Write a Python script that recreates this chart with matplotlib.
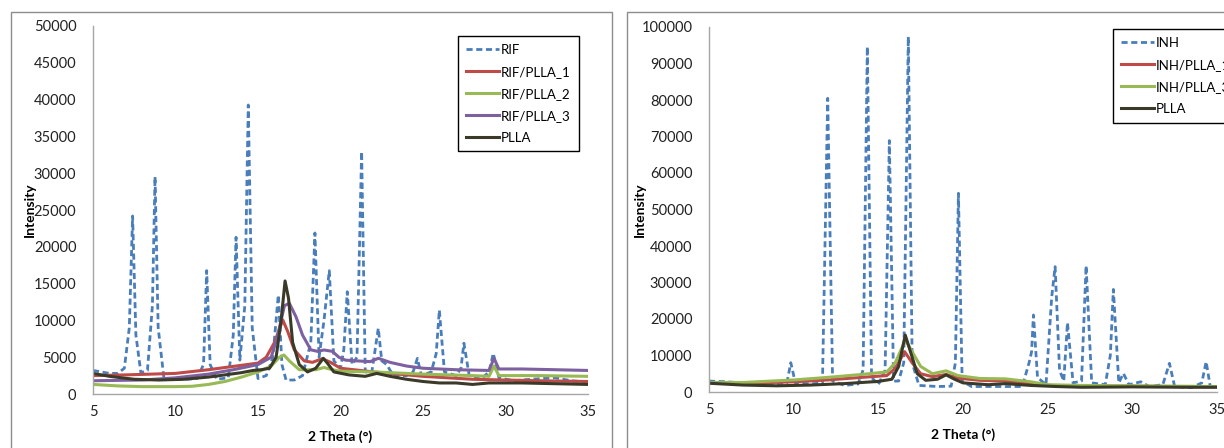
import matplotlib
matplotlib.use("Agg")
import matplotlib.pyplot as plt
from matplotlib.patches import Rectangle

plt.rcParams['font.family'] = ['Lato', 'DejaVu Sans']

# ---- left chart: RIF ----
rif_x = [5, 5.5, 6.0, 6.5, 6.9, 7.2, 7.4, 7.6, 7.9, 8.3, 8.6, 8.76, 8.95, 9.3, 9.8, 10.5, 11.3, 11.7, 11.89, 12.1, 12.5,
         13.2, 13.5, 13.67, 13.9, 14.2, 14.41, 14.65, 15.0, 15.5, 15.9, 16.23, 16.45, 16.7, 17.2, 17.7, 18.2, 18.45,
         18.7, 19.0, 19.32, 19.6, 20.0, 20.2, 20.41, 20.7, 21.0, 21.28, 21.5, 21.9, 22.29, 22.5, 22.8, 23.2, 24.0,
         24.4, 24.66, 24.9, 25.5, 25.8, 25.99, 26.3, 27.0, 27.3, 27.48, 27.8, 28.5, 29.0, 29.26, 29.6, 30.5, 31.5,
         33.0, 34.0, 35.0]
rif_y = [3200, 3000, 2800, 2800, 3500, 9000, 24190, 8000, 2900, 3200, 12000, 29530, 9000, 2100, 2000, 2000, 2100,
         4000, 16760, 4000, 2000, 2200, 8000, 21290, 4600, 12000, 39270, 9000, 2100, 2500, 5000, 13450, 4000, 1900,
         1900, 2500, 7000, 21880, 5000, 10000, 16760, 4500, 3500, 6000, 13900, 4000, 5000, 32930, 3000, 3000, 8930,
         4500, 4000, 2500, 2500, 3000, 4850, 2500, 3000, 5500, 11400, 3000, 2500, 3500, 6900, 2500, 2000, 3000, 5530,
         2200, 1800, 2000, 2200, 1800, 1600]

rif1_x = [5, 7, 10, 12, 14, 15, 15.5, 16.0, 16.5, 16.8, 17.2, 17.8, 18.3, 18.9, 19.4, 20, 22, 25, 28, 30, 32, 35]
rif1_y = [2500, 2600, 2800, 3300, 3900, 4200, 5000, 7000, 10060, 8500, 6000, 4500, 4300, 4800, 4300, 3500, 3000,
          2400, 2000, 1900, 1800, 1700]

rif2_x = [5, 6.5, 8, 10, 11, 12, 13, 14, 15, 15.8, 16.3, 16.57, 16.9, 17.5, 18.5, 19.0, 19.5, 20, 22, 25, 28, 29.0,
          29.3, 29.6, 32, 35]
rif2_y = [1300, 1100, 1000, 1000, 1050, 1300, 1700, 2300, 3000, 3800, 5000, 5300, 4500, 3300, 3300, 3600, 3300,
          3100, 3000, 2700, 2500, 2400, 3800, 2500, 2500, 2400]

rif3_x = [5, 8, 10, 12, 13.5, 15, 15.8, 16.2, 16.6, 16.9, 17.3, 17.7, 18.2, 18.6, 19.0, 19.5, 19.9, 20.3, 21, 21.8,
          22.3, 23, 24, 25, 27, 29.0, 29.3, 29.6, 31, 33, 35]
rif3_y = [1800, 1900, 2200, 2700, 3300, 4000, 5000, 8000, 12000, 12320, 10500, 8000, 6000, 5800, 5980, 5800, 5000,
          4600, 4500, 4400, 4850, 4300, 3800, 3500, 3300, 3200, 4850, 3400, 3400, 3300, 3200]

plla_l_x = [5, 6, 7.5, 9, 10.5, 12, 13, 14, 14.7, 15.2, 15.7, 16.1, 16.4, 16.64, 16.85, 17.1, 17.5, 18.0, 18.5,
            18.96, 19.2, 19.6, 20.5, 21.5, 22.2, 23, 24, 25, 26, 27, 28, 29, 30, 31, 33, 35]
plla_l_y = [2800, 2400, 2000, 1900, 2000, 2300, 2600, 2900, 3200, 3300, 3500, 5000, 10000, 15360, 13000, 7000, 4000,
            3000, 3500, 4850, 4200, 3000, 2600, 2400, 2800, 2400, 2000, 1700, 1500, 1500, 1300, 1500, 1500, 1500,
            1400, 1300]

# ---- right chart: INH ----
inh_x = [5, 6, 7, 8, 9, 9.6, 9.83, 10.1, 11, 11.7, 12.01, 12.3, 13, 13.8, 14.1, 14.35, 14.6, 15.0, 15.4, 15.65,
         15.9, 16.2, 16.5, 16.77, 17.0, 17.4, 18.5, 19.3, 19.55, 19.73, 19.95, 20.5, 22, 23.5, 23.9, 24.05, 24.16,
         24.4, 24.9, 25.24, 25.44, 25.7, 25.95, 26.17, 26.5, 27.0, 27.27, 27.6, 28.4, 28.7, 28.88, 29.2, 29.47,
         29.8, 30.5, 31.0, 31.8, 32.19, 32.5, 33.5, 34.1, 34.36, 34.6, 35]
inh_y = [3000, 2800, 2500, 2400, 2300, 2500, 8030, 2500, 2200, 2500, 80460, 3000, 1800, 2200, 6000, 94600, 4000,
         2000, 6000, 68870, 3000, 3000, 8000, 97360, 8000, 1800, 1500, 1600, 8000, 54440, 3000, 1500, 1500, 1500,
         8000, 11000, 21100, 4000, 2000, 26100, 34340, 6000, 3000, 19000, 2500, 3000, 34600, 2500, 2000, 10000,
         28100, 2500, 5100, 2000, 2800, 1500, 2000, 7850, 1500, 1200, 2500, 8300, 1500, 1500]

inh1_x = [5, 8, 10, 12, 14, 15.5, 16.0, 16.55, 17.0, 17.5, 18.2, 19.0, 19.7, 21, 22.5, 24, 25, 26, 30, 35]
inh1_y = [2500, 2500, 2800, 3300, 4000, 4500, 6500, 11050, 8000, 5000, 4200, 4800, 3800, 3200, 3000, 2200, 1800,
          1600, 1600, 1400]

inh3_x = [5, 7, 10, 12, 14, 15.5, 16.0, 16.6, 17.0, 17.5, 18.2, 19.0, 19.7, 21, 22.5, 24, 25, 27, 30, 35]
inh3_y = [2600, 2600, 3300, 4000, 4800, 5500, 8000, 14250, 11000, 7000, 5000, 5800, 4500, 3700, 3600, 2800, 2000,
          1800, 1700, 1500]

plla_r_x = [5, 7, 9, 11, 13, 15, 15.8, 16.2, 16.59, 16.9, 17.3, 17.8, 18.5, 19.0, 19.5, 20, 21.5, 22.5, 24, 25.5,
            27, 30, 33, 35]
plla_r_y = [2400, 1900, 1700, 1900, 2300, 2900, 3500, 7000, 15600, 11000, 5000, 3200, 3500, 4700, 3500, 2500, 2000,
            2300, 1800, 1500, 1300, 1400, 1300, 1300]

BLUE = '#4a7ebb'
RED = '#be4b48'
GREEN = '#98b954'
PURPLE = '#7d60a0'
DARK = '#3b3a28'

W, H = 1224, 448
fig = plt.figure(figsize=(W / 100, H / 100), dpi=100)

# chart frames (Excel style boxes)
fig.patches.append(Rectangle((11 / W, -0.1), (612 - 11) / W, 1.1 - 12 / H, transform=fig.transFigure,
                             fill=False, edgecolor='#8c8c8c', linewidth=1.0))
fig.patches.append(Rectangle((627 / W, -0.1), 0.6, 1.1 - 12 / H, transform=fig.transFigure,
                             fill=False, edgecolor='#8c8c8c', linewidth=1.0))


def style_axes(ax, ymax, ystep, ylab_x):
    ax.set_xlim(5, 35)
    ax.set_ylim(0, ymax)
    ax.set_xticks(range(5, 36, 5))
    ax.set_yticks(range(0, ymax + 1, ystep))
    for s in ['top', 'right']:
        ax.spines[s].set_visible(False)
    for s in ['left', 'bottom']:
        ax.spines[s].set_color('#a6a6a6')
        ax.spines[s].set_linewidth(1.0)
    ax.tick_params(length=0, labelsize=10.5, colors='#222222')
    ax.tick_params(axis='y', pad=12)
    ax.tick_params(axis='x', pad=8)
    ax.set_xlabel('2 Theta (°)', fontsize=10, fontweight='bold', labelpad=8)
    ax.set_ylabel('Intensity', fontsize=10, fontweight='bold')
    ax.yaxis.set_label_coords(ylab_x, 0.5)


dash = (0, (2.2, 1.3))
leg_kw = dict(loc='upper left', bbox_transform=fig.transFigure, fontsize=9.5, frameon=True, fancybox=False,
              edgecolor='black', framealpha=1, handlelength=2.5, handletextpad=0.15, labelspacing=0.75,
              borderpad=0.6, borderaxespad=0)

ax1 = fig.add_axes([93 / W, 1 - 394 / H, 495 / W, 368 / H])
ax1.plot(rif_x, rif_y, color=BLUE, lw=2.0, linestyle=dash, label='RIF')
ax1.plot(rif1_x, rif1_y, color=RED, lw=2.2, label='RIF/PLLA_1')
ax1.plot(rif2_x, rif2_y, color=GREEN, lw=2.2, label='RIF/PLLA_2')
ax1.plot(rif3_x, rif3_y, color=PURPLE, lw=2.2, label='RIF/PLLA_3')
ax1.plot(plla_l_x, plla_l_y, color=DARK, lw=2.2, label='PLLA')
style_axes(ax1, 50000, 5000, (36 - 93) / 495)
ax1.legend(bbox_to_anchor=(458 / W, 1 - 36 / H), **leg_kw)

ax2 = fig.add_axes([709 / W, 1 - 392 / H, 508 / W, 365 / H])
ax2.plot(inh_x, inh_y, color=BLUE, lw=2.0, linestyle=dash, label='INH')
ax2.plot(inh1_x, inh1_y, color=RED, lw=2.2, label='INH/PLLA_1')
ax2.plot(inh3_x, inh3_y, color=GREEN, lw=2.2, label='INH/PLLA_3')
ax2.plot(plla_r_x, plla_r_y, color=DARK, lw=2.2, label='PLLA')
style_axes(ax2, 100000, 10000, (646 - 709) / 508)
ax2.legend(bbox_to_anchor=(1113 / W, 1 - 29 / H), **leg_kw)

fig.savefig('out.png', dpi=100)
